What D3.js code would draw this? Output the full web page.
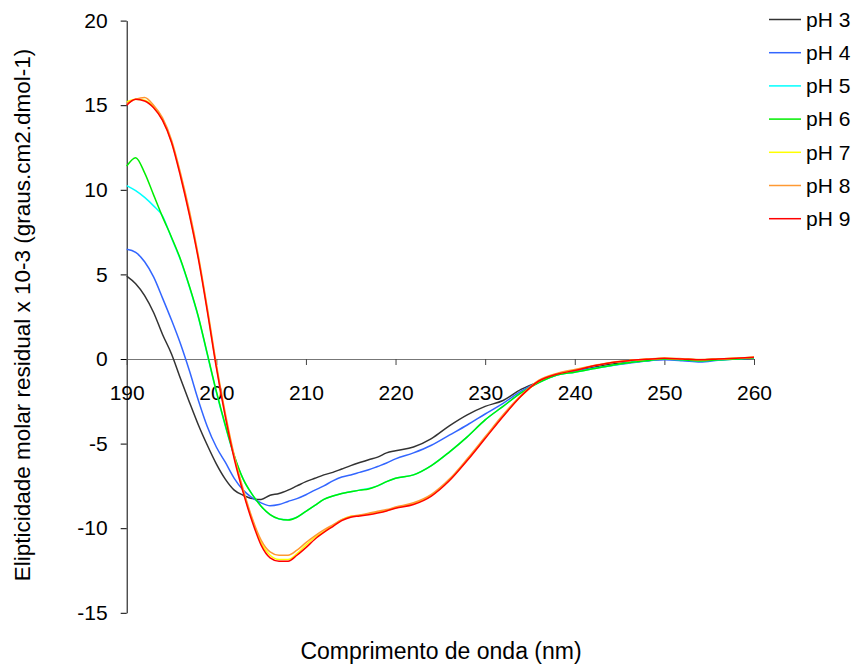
<!DOCTYPE html>
<html>
<head>
<meta charset="utf-8">
<script src="https://cdn.jsdelivr.net/npm/d3@7"></script>
<style>
  html, body { margin: 0; padding: 0; background: #fff; }
  svg { display: block; }
  text { font-family: "Liberation Sans", Arial, sans-serif; fill: #000; }
</style>
</head>
<body>
<svg id="chart" width="858" height="668"></svg>
<script>
// Wavelengths (nm) shared by every spectrum
const wavelength = [
  190,191,192,193,194,195,196,197,198,199,200,201,202,203,204,205,206,207,208,209,
  210,211,212,213,214,215,216,217,218,219,220,
  222,224,226,228,230,232,234,236,238,240,
  242,244,246,248,250,252,254,256,258,260
];

// Mean residue ellipticity (x 10^-3) for each pH
const pH3 = [
  4.9,4.45,3.75,2.75,1.45,0.3,-1.15,-2.55,-3.9,-5.1,-6.2,-7.1,-7.75,-8.05,-8.25,-8.3,-8.05,-7.95,-7.75,-7.5,
  -7.25,-7.05,-6.85,-6.7,-6.5,-6.3,-6.12,-5.95,-5.8,-5.55,-5.42,
  -5.2,-4.7,-3.95,-3.3,-2.8,-2.45,-1.8,-1.35,-0.9,-0.68,
  -0.5,-0.3,-0.2,-0.1,-0.02,-0.02,-0.05,0.0,0.0,0.05
];
const pH4 = [
  6.48,6.3,5.75,4.85,3.6,2.3,0.9,-0.7,-2.45,-4.0,-5.2,-6.1,-7.05,-7.75,-8.2,-8.5,-8.67,-8.6,-8.42,-8.25,
  -8.02,-7.75,-7.5,-7.2,-6.97,-6.85,-6.7,-6.55,-6.35,-6.15,-5.9,
  -5.55,-5.1,-4.5,-3.9,-3.25,-2.62,-1.9,-1.35,-0.95,-0.72,
  -0.55,-0.4,-0.25,-0.12,-0.05,-0.1,-0.18,-0.08,0.0,0.05
];
const pH5 = [
  10.25,9.95,9.55,9.05,8.45,7.15,5.85,4.25,2.45,0.25,-1.95,-3.95,-5.75,-7.1,-8.0,-8.7,-9.2,-9.45,-9.5,-9.35,
  -9.0,-8.65,-8.3,-8.1,-7.95,-7.85,-7.75,-7.65,-7.5,-7.25,-7.05,
  -6.85,-6.3,-5.5,-4.6,-3.6,-2.8,-2.0,-1.4,-0.95,-0.78,
  -0.58,-0.4,-0.22,-0.1,0.0,-0.05,-0.12,-0.05,0.0,0.08
];
const pH6 = [
  11.4,11.9,11.0,9.7,8.4,7.2,5.9,4.3,2.5,0.3,-1.9,-3.9,-5.7,-7.1,-8.0,-8.7,-9.2,-9.45,-9.52,-9.35,
  -9.0,-8.65,-8.3,-8.1,-7.95,-7.85,-7.75,-7.68,-7.5,-7.25,-7.05,
  -6.85,-6.3,-5.5,-4.6,-3.6,-2.8,-2.0,-1.4,-0.95,-0.78,
  -0.58,-0.38,-0.22,-0.1,0.0,-0.05,-0.12,-0.05,0.0,0.08
];
const pH7 = [
  15.2,15.35,15.3,14.9,14.15,12.85,10.9,8.6,6.0,2.9,-0.4,-3.3,-5.8,-7.8,-9.5,-10.85,-11.6,-11.85,-11.85,-11.5,
  -11.0,-10.55,-10.2,-9.85,-9.5,-9.3,-9.25,-9.15,-9.05,-8.95,-8.8,
  -8.55,-8.05,-7.15,-5.95,-4.65,-3.35,-2.2,-1.3,-0.88,-0.65,
  -0.42,-0.22,-0.1,-0.02,0.05,0.0,-0.05,0.0,0.05,0.1
];
const pH8 = [
  15.1,15.35,15.45,15.0,14.25,12.95,11.0,8.75,6.1,3.0,-0.3,-3.2,-5.7,-7.7,-9.4,-10.7,-11.4,-11.6,-11.6,-11.3,
  -10.85,-10.45,-10.1,-9.8,-9.5,-9.3,-9.22,-9.12,-9.0,-8.9,-8.75,
  -8.5,-8.0,-7.1,-5.9,-4.6,-3.3,-2.15,-1.25,-0.85,-0.62,
  -0.4,-0.2,-0.1,0.0,0.05,0.02,-0.03,0.0,0.05,0.1
];
const pH9 = [
  15.0,15.35,15.25,14.85,14.1,12.8,10.8,8.5,5.9,2.8,-0.5,-3.4,-5.9,-7.9,-9.6,-11.0,-11.75,-11.95,-11.95,-11.6,
  -11.15,-10.65,-10.25,-9.9,-9.55,-9.35,-9.28,-9.2,-9.1,-8.98,-8.82,
  -8.6,-8.1,-7.2,-6.0,-4.7,-3.4,-2.2,-1.3,-0.9,-0.68,
  -0.42,-0.22,-0.1,-0.02,0.05,0.0,-0.05,0.0,0.05,0.1
];

const seriesNames = ["pH 3", "pH 4", "pH 5", "pH 6", "pH 7", "pH 8", "pH 9"];
const seriesValues = [pH3, pH4, pH5, pH6, pH7, pH8, pH9];
const seriesColors = ["#333333", "#3366ff", "#00ffff", "#00ee00", "#ffff00", "#ff9933", "#ff0000"];

const xTicks = [190, 200, 210, 220, 230, 240, 250, 260];
const yTicks = [-15, -10, -5, 0, 5, 10, 15, 20];

const svg = d3.select("#chart");

const x = d3.scaleLinear().domain([190, 260]).range([126.7, 754]);
const y = d3.scaleLinear().domain([-15, 20]).range([612.8, 20.6]);

// Plain hyphen-minus for negative tick labels
const plainNumber = d => String(d);

// Y axis on the left edge of the plot
const yAxis = svg.append("g")
  .attr("transform", `translate(${x(190)},0)`)
  .call(d3.axisLeft(y).tickValues(yTicks).tickFormat(plainNumber)
    .tickSize(6).tickSizeOuter(0).tickPadding(13));
yAxis.select(".domain").attr("stroke", "#000").attr("stroke-width", 1);
yAxis.selectAll(".tick line").attr("stroke", "#000");
yAxis.selectAll(".tick text")
  .style("font-size", "21px")
  .style("font-family", "'Liberation Sans', Arial, sans-serif")
  .attr("fill", "#000");

// X axis running along the zero line
const xAxis = svg.append("g")
  .attr("transform", `translate(0,${y(0)})`)
  .call(d3.axisBottom(x).tickValues(xTicks).tickFormat(plainNumber)
    .tickSize(6).tickSizeOuter(0).tickPadding(20));
xAxis.select(".domain").attr("stroke", "#777").attr("stroke-width", 1.2);
xAxis.selectAll(".tick line").attr("stroke", "#444");
xAxis.selectAll(".tick text")
  .style("font-size", "21px")
  .style("font-family", "'Liberation Sans', Arial, sans-serif")
  .attr("fill", "#000");

// Spectra
const line = d3.line()
  .x((d, i) => x(wavelength[i]))
  .y(d => y(d))
  .curve(d3.curveMonotoneX);

svg.append("g")
  .selectAll("path")
  .data(seriesValues)
  .join("path")
  .attr("d", d => line(d))
  .attr("fill", "none")
  .attr("stroke", (d, i) => seriesColors[i])
  .attr("stroke-width", 1.5)
  .attr("stroke-linejoin", "round");

// Legend
const legend = svg.append("g").attr("transform", "translate(769,19.5)");
const rows = legend.selectAll("g")
  .data(seriesNames)
  .join("g")
  .attr("transform", (d, i) => `translate(0,${i * 33.2})`);
rows.append("line")
  .attr("x1", 0).attr("x2", 32)
  .attr("y1", 0).attr("y2", 0)
  .attr("stroke", (d, i) => seriesColors[i])
  .attr("stroke-width", 1.5);
rows.append("text")
  .attr("x", 37)
  .attr("y", 0)
  .attr("dy", "0.35em")
  .style("font-size", "21px")
  .text(d => d);

// Axis titles
svg.append("text")
  .attr("x", 441)
  .attr("y", 659)
  .attr("text-anchor", "middle")
  .style("font-size", "23px")
  .text("Comprimento de onda (nm)");

svg.append("text")
  .attr("transform", "translate(30,315) rotate(-90)")
  .attr("text-anchor", "middle")
  .style("font-size", "22.5px")
  .text("Elipticidade molar residual x 10-3 (graus.cm2.dmol-1)");
</script>
</body>
</html>
